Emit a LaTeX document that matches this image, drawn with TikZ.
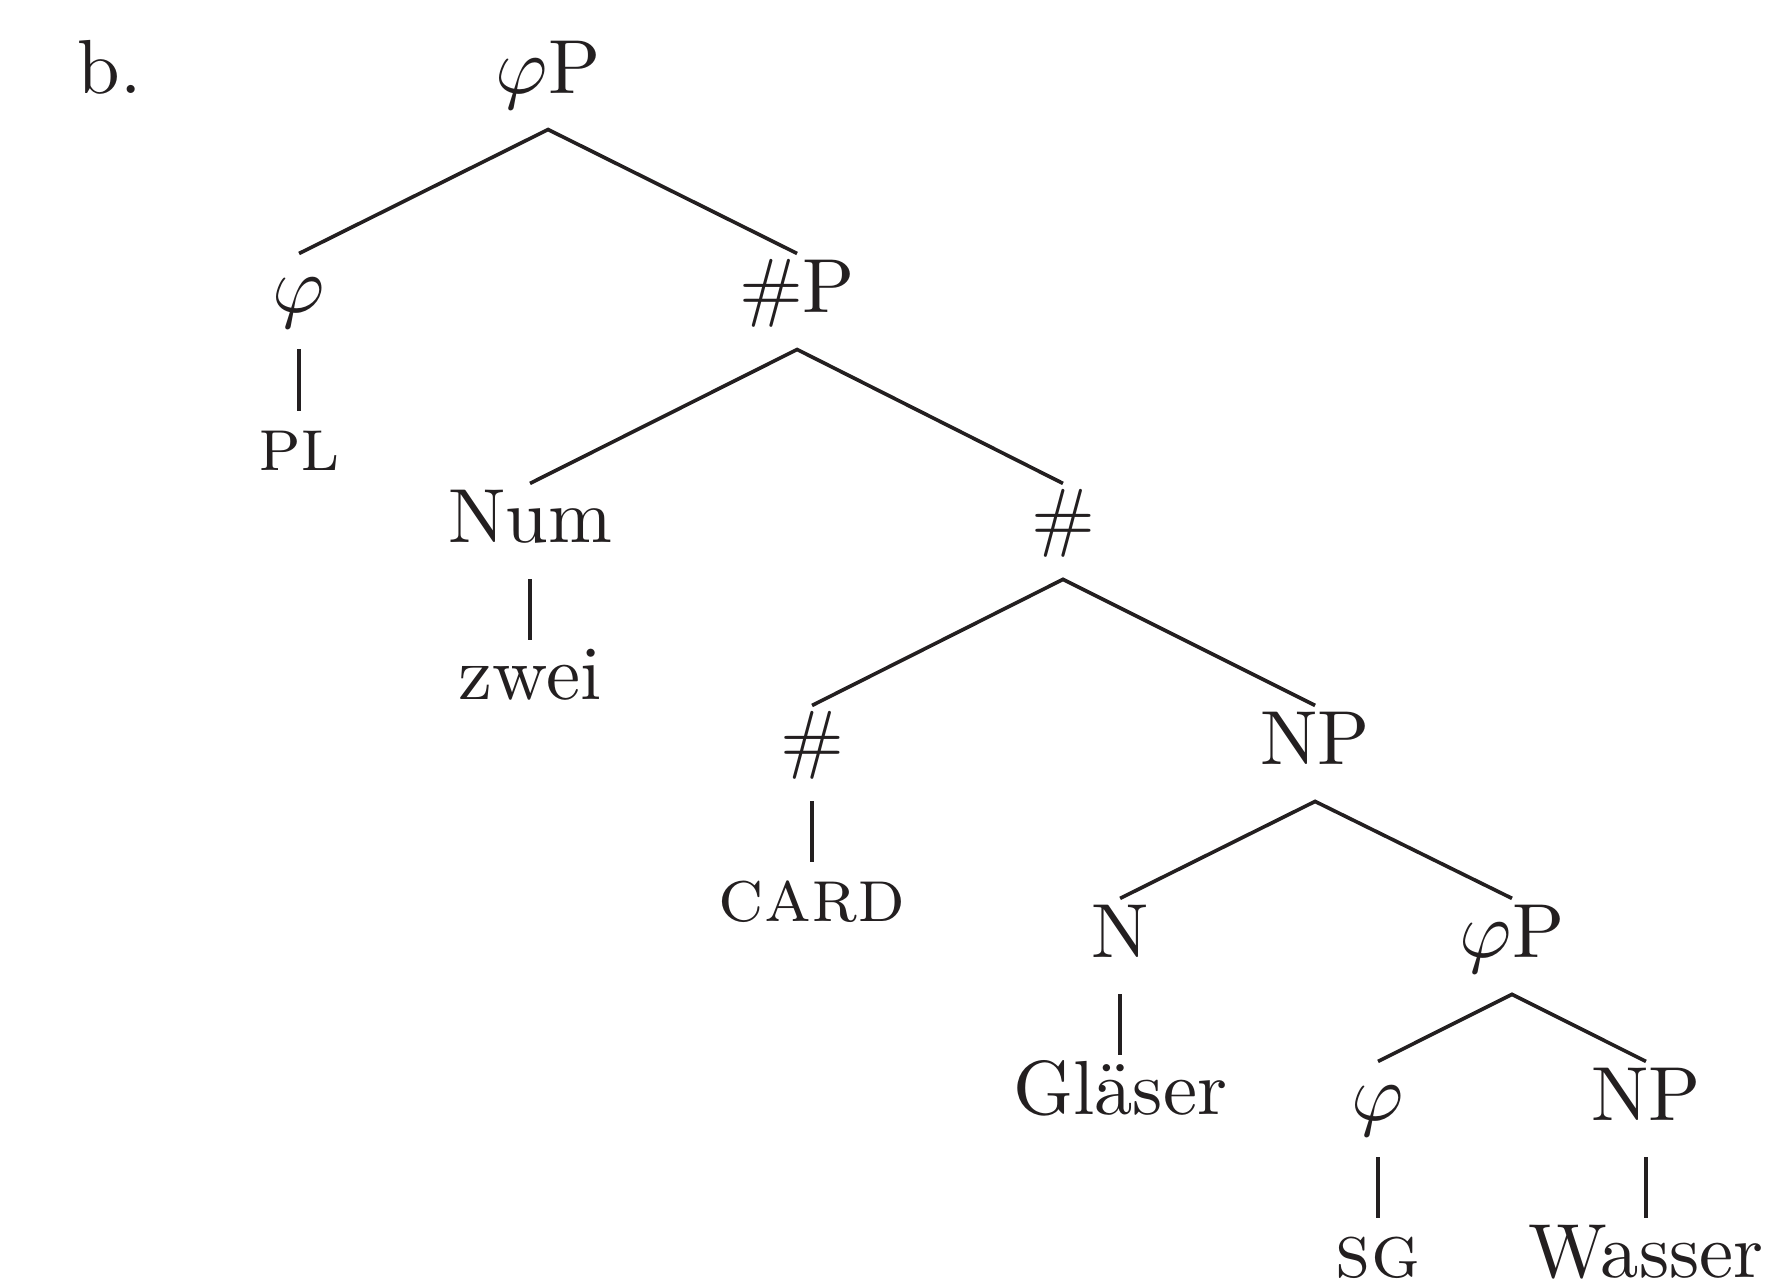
\documentclass[tikz,border=0pt]{standalone}
\usepackage{xcolor}
\usetikzlibrary{positioning}
\definecolor{ink}{HTML}{231F20}
\tikzset{
  cat/.style={anchor=base, inner sep=1.5pt, text height=6.45pt, text depth=3.3pt,
              font=\fontsize{10.5pt}{12.6pt}\selectfont, text=ink},
  ex/.style={anchor=base west, inner sep=0pt, font=\fontsize{10.5pt}{12.6pt}\selectfont,
             text=ink},
  branch/.style={line width=0.5pt, draw=ink},
}
\newcommand{\feat}[1]{\textsc{#1}}

\begin{document}
\begin{tikzpicture}[x=1mm, y=1mm]
\useasboundingbox (0,0) rectangle (85.32,61.87);

\node[ex] (lbl) at (3.66,57.39) {b.};

\node[cat] (phip) at (26.39,57.39) {$\varphi$P};
\node[cat] (phi) at (14.40,46.80) {$\varphi$};
\node[cat] (hashp) at (38.38,46.80) {\#P};
\node[cat] (pl) at (14.40,39.24) {\feat{pl}};
\node[cat] (num) at (25.52,35.73) {Num};
\node[cat] (hashbar) at (51.18,35.73) {\#};
\node[cat] (zwei) at (25.52,28.17) {zwei};
\node[cat] (hash) at (39.10,25.04) {\#};
\node[cat] (np) at (63.32,25.04) {NP};
\node[cat] (card) at (39.10,17.48) {\feat{card}};
\node[cat] (n) at (53.93,15.75) {N};
\node[cat] (phip2) at (72.80,15.75) {$\varphi$P};
\node[cat] (glaeser) at (53.93,8.19) {Gl\"aser};
\node[cat] (phi2) at (66.35,7.90) {$\varphi$};
\node[cat] (np2) at (79.25,7.90) {NP};
\node[cat] (sg) at (66.35,0.34) {\feat{sg}};
\node[cat] (wasser) at (79.25,0.34) {Wasser};

% binary branches
\draw[branch] (phi.north) -- (phip.south) -- (hashp.north);
\draw[branch] (num.north) -- (hashp.south) -- (hashbar.north);
\draw[branch] (hash.north) -- (hashbar.south) -- (np.north);
\draw[branch] (n.north) -- (np.south) -- (phip2.north);
\draw[branch] (phi2.north) -- (phip2.south) -- (np2.north);

% unary branches
\draw[branch] (phi.south) -- (pl.north);
\draw[branch] (num.south) -- (zwei.north);
\draw[branch] (hash.south) -- (card.north);
\draw[branch] (n.south) -- (glaeser.north);
\draw[branch] (phi2.south) -- (sg.north);
\draw[branch] (np2.south) -- (wasser.north);

\end{tikzpicture}
\end{document}
